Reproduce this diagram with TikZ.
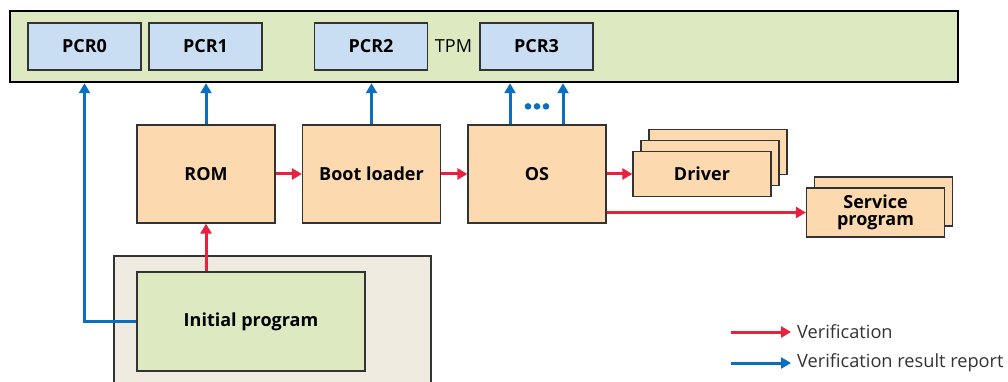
\documentclass[tikz,border=0pt]{standalone}
\usepackage{fontspec}
\setmainfont{Open Sans}
\usetikzlibrary{arrows.meta,shadows}

\definecolor{tpmgreen}{HTML}{DCE9C1}
\definecolor{pcrblue}{HTML}{C9DEF2}
\definecolor{stageorange}{HTML}{FCD9AE}
\definecolor{hostbeige}{HTML}{EFEBE0}
\definecolor{verifyred}{HTML}{E8213C}
\definecolor{reportblue}{HTML}{0A6FC0}
\definecolor{legendgray}{HTML}{333333}

\tikzset{
  box/.style={draw=black!80, line width=1.2pt, rectangle, inner sep=0pt,
    font=\fontsize{18}{20}\selectfont\bfseries, align=center},
  pcrbox/.style={box, fill=pcrblue, minimum width=113pt, minimum height=47pt},
  stagebox/.style={box, fill=stageorange, minimum width=138pt, minimum height=98pt},
  stackbox/.style={box, fill=stageorange, minimum width=138pt, minimum height=45pt},
  verify/.style={draw=verifyred, line width=3pt,
    -{Triangle[length=10pt,width=11pt]}},
  report/.style={draw=reportblue, line width=3pt,
    -{Triangle[length=10pt,width=11pt]}},
  legendtext/.style={anchor=west, text=legendgray, inner sep=0pt,
    font=\fontsize{18.2}{20}\selectfont}
}

\begin{document}
\begin{tikzpicture}[x=1pt, y=-1pt]
  \clip (0,0) rectangle (1008,382);

  % TPM with its platform configuration registers
  \node[draw=black, line width=2.5pt, fill=tpmgreen, rectangle, inner sep=0pt,
        minimum width=948pt, minimum height=71pt] (tpm) at (484,46.5) {};
  \node[pcrbox] (pcr0) at (84.5,46.5) {PCR0};
  \node[pcrbox] (pcr1) at (205.5,46.5) {PCR1};
  \node[pcrbox] (pcr2) at (371,46.5) {PCR2};
  \node[pcrbox] (pcr3) at (536.5,46.5) {PCR3};
  \node[font=\fontsize{18}{20}\selectfont, inner sep=0pt] (tpmlabel) at (453.5,46.5) {TPM};

  % Host platform holding the initial program
  \node[draw=black!80, line width=1.2pt, fill=hostbeige, rectangle, inner sep=0pt,
        minimum width=317pt, minimum height=140pt] (host) at (272.5,326) {};
  \node[box, fill=tpmgreen, minimum width=228pt, minimum height=99pt]
        (init) at (251,321.5) {Initial program};

  % Boot chain
  \node[stagebox] (rom) at (206,174) {ROM};
  \node[stagebox] (boot) at (371.5,174) {Boot loader};
  \node[stagebox] (os) at (537,174) {OS};

  % Drivers and services started by the OS
  \node[stackbox, double copy shadow={shadow xshift=8pt, shadow yshift=11pt,
        fill=stageorange, draw=black!80, line width=1.2pt}]
        (driver) at (702,174) {Driver};
  \node[stackbox, minimum height=49pt, copy shadow={shadow xshift=8pt, shadow yshift=11pt,
        fill=stageorange, draw=black!80, line width=1.2pt}]
        (service) at (875.5,212.5) {Service\\[-3pt]program};

  % Verification chain
  \draw[verify] (rom.south |- init.north) -- (rom.south);
  \draw[verify] (rom.east) -- (boot.west);
  \draw[verify] (boot.east) -- (os.west);
  \draw[verify] (os.east) -- (driver.west);
  \draw[verify] (os.east |- service.west) -- (service.west);

  % Measurements reported to the TPM
  \draw[report] (init.west) -| (pcr0.south |- tpm.south);
  \draw[report] (rom.north) -- (rom.north |- tpm.south);
  \draw[report] (boot.north) -- (boot.north |- tpm.south);
  \draw[report] ([xshift=-27pt]os.north) -- ([xshift=-27pt]os.north |- tpm.south);
  \draw[report] ([xshift=26pt]os.north) -- ([xshift=26pt]os.north |- tpm.south);
  \foreach \dx in {-9,0,9}
    \fill[reportblue] ([xshift=\dx pt, yshift=18pt]os.north) circle (3.3pt);

  % Legend
  \coordinate (lv0) at (731,332);
  \coordinate (lv1) at (791,332);
  \coordinate (lr0) at (731,363);
  \coordinate (lr1) at (791,363);
  \draw[verify] (lv0) -- (lv1);
  \draw[report] (lr0) -- (lr1);
  \node[legendtext] (lvtext) at (797,332) {Verification};
  \node[legendtext] (lrtext) at (797,363) {Verification result report};
\end{tikzpicture}
\end{document}
